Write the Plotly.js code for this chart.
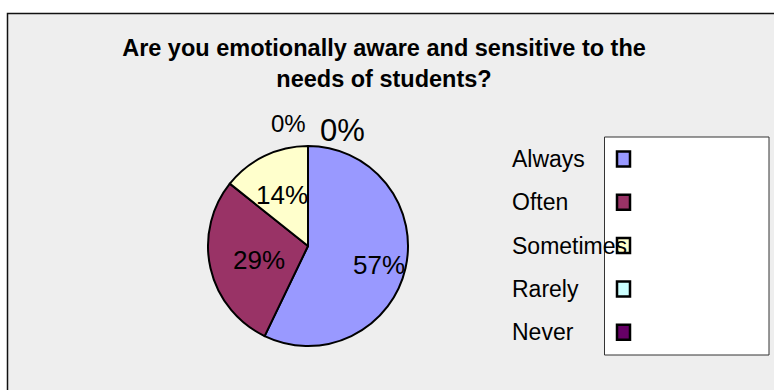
<!DOCTYPE html>
<html><head><meta charset="utf-8">
<script src="https://cdn.plot.ly/plotly-3.0.1.min.js"></script>
<style>html,body{margin:0;padding:0;background:#fff}#chart{width:774px;height:390px}</style>
</head><body><div id="chart"></div>
<script>
// ---- data ----
const categories = ['Always', 'Often', 'Sometimes', 'Rarely', 'Never'];
const counts = [4, 2, 1, 0, 0];
const titleText = 'Are you emotionally aware and sensitive to the<br>needs of students?';

// ---- style ----
const sliceColors = ['#9999FF', '#993366', '#FFFFCC', '#CCFFFF', '#660066'];
const labelRadius = [0.73, 0.5, 0.6];      // radial position of inside labels (fraction of radius)
const zeroLabelRadius = [1.22, 1.15];
const zeroLabelSizes = [24, 31];
const W = 774, H = 390;
const px = x => x / W, py = y => 1 - y / H;
const CX = 308, CY = 246, R = 100;
const FONT = '"Liberation Sans", Arial, sans-serif';

const total = counts.reduce((a, b) => a + b, 0);
const pct = counts.map(v => Math.round(v / total * 100) + '%');

const trace = {
  type: 'pie', labels: categories, values: counts, sort: false,
  direction: 'clockwise', rotation: 0,
  marker: {colors: sliceColors, line: {color: '#000', width: 2}},
  textinfo: 'none', hoverinfo: 'label+percent', showlegend: false,
  domain: {x: [px(CX - R), px(CX + R)], y: [py(CY + R), py(CY - R)]}
};

const annotations = [];
const shapes = [];

// chart area frame
shapes.push({type: 'rect', xref: 'paper', yref: 'paper', layer: 'below',
  x0: px(7.5), x1: 1.1, y0: py(13.5), y1: -0.1,
  fillcolor: '#EEEEEE', line: {color: '#111', width: 1.5}});

// pie labels from data
let cum = 0, zi = 0;
counts.forEach((v, i) => {
  const f0 = cum / total; cum += v; const f1 = cum / total;
  const mid = (f0 + f1) / 2 * 2 * Math.PI;
  if (v > 0) {
    const r = R * labelRadius[i];
    annotations.push({xref: 'paper', yref: 'paper', showarrow: false,
      x: px(CX + r * Math.sin(mid)), y: py(CY - r * Math.cos(mid) + 3),
      xanchor: 'center', yanchor: 'middle', text: pct[i],
      font: {family: FONT, size: 26, color: '#000'}});
  } else {
    const r = R * zeroLabelRadius[zi];
    const left = zi % 2 === 0;
    annotations.push({xref: 'paper', yref: 'paper', showarrow: false,
      x: px(CX + (left ? 0 : 10)), y: py(CY - r * Math.cos(mid)),
      xanchor: left ? 'right' : 'left', yanchor: 'middle', text: pct[i],
      font: {family: FONT, size: zeroLabelSizes[zi], color: '#000'}});
    zi++;
  }
});

// legend
shapes.push({type: 'rect', xref: 'paper', yref: 'paper',
  x0: px(604.5), x1: px(769), y0: py(355), y1: py(137),
  fillcolor: '#FFFFFF', line: {color: '#333', width: 1}});
categories.forEach((c, i) => {
  const y = 159 + i * 43.3;
  annotations.push({xref: 'paper', yref: 'paper', showarrow: false,
    x: px(510), y: py(y), xanchor: 'left', yanchor: 'middle', text: c,
    font: {family: FONT, size: 23, color: '#000'}});
  shapes.push({type: 'rect', xref: 'paper', yref: 'paper',
    x0: px(617), x1: px(630), y0: py(y + 7.5), y1: py(y - 7.5),
    fillcolor: sliceColors[i], line: {color: '#000', width: 2.5}});
});

const layout = {
  width: W, height: H, margin: {l: 0, r: 0, t: 0, b: 0},
  paper_bgcolor: '#FFFFFF', showlegend: false,
  title: {text: titleText, x: px(384), xanchor: 'center', y: py(56), yanchor: 'middle',
    font: {family: FONT, size: 23.5, color: '#000', weight: 'bold'}},
  shapes: shapes, annotations: annotations
};

Plotly.newPlot('chart', [trace], layout, {displayModeBar: false, staticPlot: true});
</script>
</body></html>
